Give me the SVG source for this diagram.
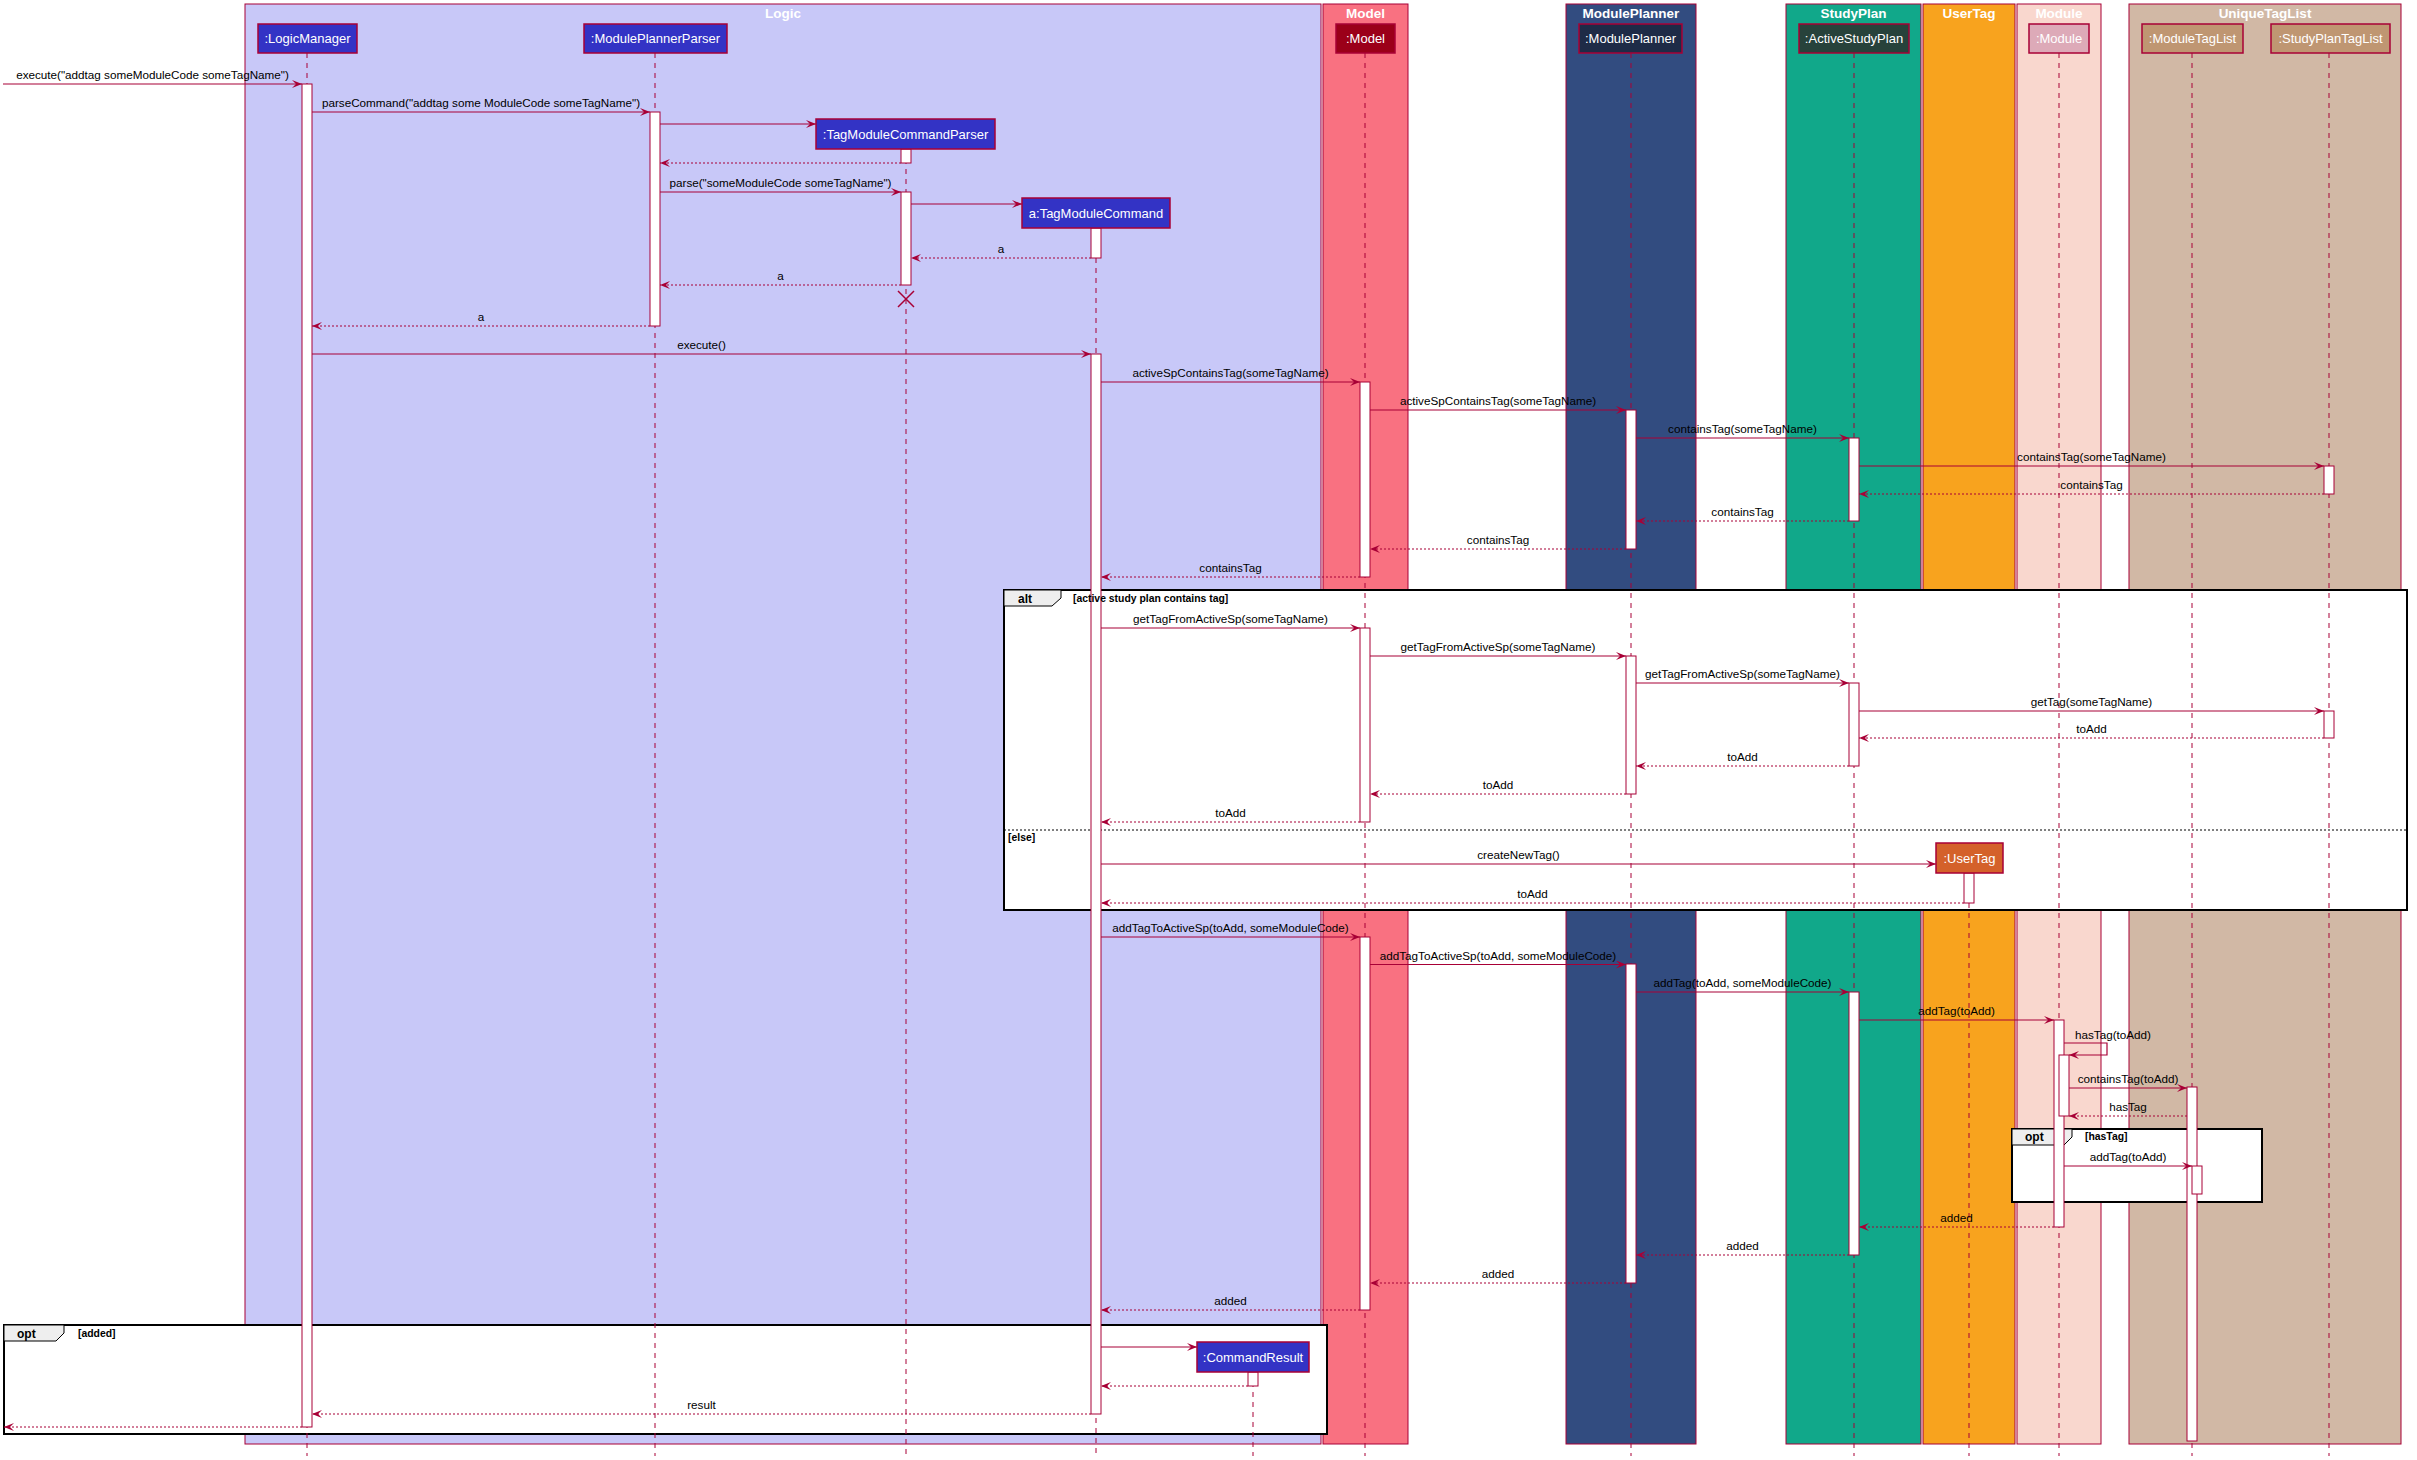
<svg xmlns="http://www.w3.org/2000/svg" width="2417" height="1460" viewBox="0 0 2417 1460">
  <style>
    text { font-family: "Liberation Sans", Arial, sans-serif; }
    .ftitle { font-size: 13.5px; font-weight: bold; fill: #ffffff; text-anchor: middle; }
    .fbox { stroke: #A80036; stroke-width: 1; }
    .pbox { stroke: #A80036; stroke-width: 1.5; }
    .plabel { font-size: 13px; fill: #ffffff; text-anchor: middle; }
    .life { stroke: #A80036; stroke-width: 1; stroke-dasharray: 5,5; fill: none; }
    .act { fill: #ffffff; stroke: #A80036; stroke-width: 1; }
    .call { stroke: #A80036; stroke-width: 1.2; fill: none; marker-end: url(#ah); }
    .ret { stroke: #A80036; stroke-width: 1.2; stroke-dasharray: 2,2; fill: none; marker-end: url(#ah); }
    .msg { font-size: 11.7px; fill: #000000; text-anchor: middle; }
    .self { font-size: 11.7px; fill: #000000; }
    .grp { fill: #ffffff; stroke: #000000; stroke-width: 2; }
    .tab { fill: #EEEEEE; stroke: #000000; stroke-width: 1; }
    .gkey { font-size: 12px; font-weight: bold; fill: #000000; }
    .guard { font-size: 10.4px; font-weight: bold; fill: #000000; }
    .sep { stroke: #000000; stroke-width: 1; stroke-dasharray: 2,2; }
    .blue { fill: #3333C5; }
  </style>
  <defs>
    <marker id="ah" markerUnits="userSpaceOnUse" markerWidth="12" markerHeight="10" refX="10" refY="4" orient="auto">
      <path d="M0,0 L10,4 L0,8 L4,4 Z" fill="#A80036"/>
    </marker>
  </defs>

  <rect x="0" y="0" width="2417" height="1460" fill="#ffffff"/>

  <!-- package boxes -->
  <g id="box-logic">
    <rect class="fbox" x="245" y="4" width="1076" height="1440" fill="#C8C8F8"/>
    <text class="ftitle" x="783" y="18">Logic</text>
  </g>
  <g id="box-model">
    <rect class="fbox" x="1323" y="4" width="85" height="1440" fill="#F97181"/>
    <text class="ftitle" x="1365.5" y="18">Model</text>
  </g>
  <g id="box-moduleplanner">
    <rect class="fbox" x="1566" y="4" width="130" height="1440" fill="#324C80"/>
    <text class="ftitle" x="1631" y="18">ModulePlanner</text>
  </g>
  <g id="box-studyplan">
    <rect class="fbox" x="1786" y="4" width="135" height="1440" fill="#11A88A"/>
    <text class="ftitle" x="1853.5" y="18">StudyPlan</text>
  </g>
  <g id="box-usertag">
    <rect class="fbox" x="1923" y="4" width="92" height="1440" fill="#F8A31E"/>
    <text class="ftitle" x="1969" y="18">UserTag</text>
  </g>
  <g id="box-module">
    <rect class="fbox" x="2017" y="4" width="84" height="1440" fill="#F9D7CE"/>
    <text class="ftitle" x="2059" y="18">Module</text>
  </g>
  <g id="box-uniquetaglist">
    <rect class="fbox" x="2129" y="4" width="272" height="1440" fill="#D1B8A5"/>
    <text class="ftitle" x="2265" y="18">UniqueTagList</text>
  </g>

  <!-- combined fragments: frames and tabs -->
  <g id="frag-alt">
    <rect class="grp" x="1004" y="590" width="1403" height="320"/>
    <path class="tab" d="M1004,590 H1061 V598 L1052,606 H1004 Z"/>
    <text class="gkey" x="1018" y="603">alt</text>
    <line class="sep" x1="1004" y1="830" x2="2407" y2="830"/>
  </g>
  <g id="frag-opt-hastag">
    <rect class="grp" x="2012" y="1129" width="250" height="73"/>
    <path class="tab" d="M2012,1129 H2072 V1137 L2064,1145 H2012 Z"/>
    <text class="gkey" x="2025" y="1141">opt</text>
  </g>
  <g id="frag-opt-added">
    <rect class="grp" x="4" y="1325" width="1323" height="109"/>
    <path class="tab" d="M4,1325 H64 V1333 L56,1341 H4 Z"/>
    <text class="gkey" x="17" y="1338">opt</text>
  </g>

  <!-- lifelines -->
  <g id="lifelines">
    <line class="life" x1="307" y1="53" x2="307" y2="1456"/>
    <line class="life" x1="655" y1="53" x2="655" y2="1456"/>
    <line class="life" x1="906" y1="149" x2="906" y2="1456"/>
    <line class="life" x1="1096" y1="228" x2="1096" y2="1456"/>
    <line class="life" x1="1253" y1="1372" x2="1253" y2="1456"/>
    <line class="life" x1="1365" y1="53" x2="1365" y2="1456"/>
    <line class="life" x1="1631" y1="53" x2="1631" y2="1456"/>
    <line class="life" x1="1854" y1="53" x2="1854" y2="1456"/>
    <line class="life" x1="1969" y1="873" x2="1969" y2="1456"/>
    <line class="life" x1="2059" y1="53" x2="2059" y2="1456"/>
    <line class="life" x1="2192" y1="53" x2="2192" y2="1456"/>
    <line class="life" x1="2329" y1="53" x2="2329" y2="1456"/>
  </g>

  <!-- activation bars -->
  <g id="activations">
    <rect class="act" x="302" y="84" width="10" height="1343"/>
    <rect class="act" x="650" y="112" width="10" height="214"/>
    <rect class="act" x="901" y="149" width="10" height="14"/>
    <rect class="act" x="901" y="192" width="10" height="93"/>
    <rect class="act" x="1091" y="228" width="10" height="30"/>
    <rect class="act" x="1091" y="354" width="10" height="1060"/>
    <rect class="act" x="1360" y="382" width="10" height="195"/>
    <rect class="act" x="1360" y="628" width="10" height="194"/>
    <rect class="act" x="1360" y="937" width="10" height="373"/>
    <rect class="act" x="1626" y="410" width="10" height="139"/>
    <rect class="act" x="1626" y="656" width="10" height="138"/>
    <rect class="act" x="1626" y="964" width="10" height="319"/>
    <rect class="act" x="1849" y="438" width="10" height="83"/>
    <rect class="act" x="1849" y="683" width="10" height="83"/>
    <rect class="act" x="1849" y="992" width="10" height="263"/>
    <rect class="act" x="1964" y="873" width="10" height="30"/>
    <rect class="act" x="2054" y="1020" width="10" height="207"/>
    <rect class="act" x="2059" y="1055" width="10" height="61"/>
    <rect class="act" x="2187" y="1087" width="10" height="354"/>
    <rect class="act" x="2192" y="1166" width="10" height="28"/>
    <rect class="act" x="2324" y="466" width="10" height="28"/>
    <rect class="act" x="2324" y="711" width="10" height="27"/>
    <rect class="act" x="1248" y="1372" width="10" height="14"/>
  </g>

  <!-- fragment guards, printed over the bars -->
  <g id="frag-guards">
    <text class="guard" x="1073" y="602">[active study plan contains tag]</text>
    <text class="guard" x="1008" y="841">[else]</text>
    <text class="guard" x="2085" y="1140">[hasTag]</text>
    <text class="guard" x="78" y="1337">[added]</text>
  </g>

  <!-- messages -->
  <g id="connectors">
    <path class="call" d="M3,84 H302"/>
    <text class="msg" x="152.5" y="79">execute("addtag someModuleCode someTagName")</text>
    <path class="call" d="M312,112 H650"/>
    <text class="msg" x="481" y="107">parseCommand("addtag some ModuleCode someTagName")</text>
    <path class="call" d="M660,124 H816"/>
    <path class="ret" d="M901,163 H660"/>
    <path class="call" d="M660,192 H901"/>
    <text class="msg" x="780.5" y="187">parse("someModuleCode someTagName")</text>
    <path class="call" d="M911,204 H1022"/>
    <path class="ret" d="M1091,258 H911"/>
    <text class="msg" x="1001" y="253">a</text>
    <path class="ret" d="M901,285 H660"/>
    <text class="msg" x="780.5" y="280">a</text>
    <path d="M898,291 L914,307 M914,291 L898,307" stroke="#A80036" stroke-width="1.5"/>
    <path class="ret" d="M650,326 H312"/>
    <text class="msg" x="481" y="321">a</text>
    <path class="call" d="M312,354 H1091"/>
    <text class="msg" x="701.5" y="349">execute()</text>

    <path class="call" d="M1101,382 H1360"/>
    <text class="msg" x="1230.5" y="377">activeSpContainsTag(someTagName)</text>
    <path class="call" d="M1370,410 H1626"/>
    <text class="msg" x="1498" y="405">activeSpContainsTag(someTagName)</text>
    <path class="call" d="M1636,438 H1849"/>
    <text class="msg" x="1742.5" y="433">containsTag(someTagName)</text>
    <path class="call" d="M1859,466 H2324"/>
    <text class="msg" x="2091.5" y="461">containsTag(someTagName)</text>
    <path class="ret" d="M2324,494 H1859"/>
    <text class="msg" x="2091.5" y="489">containsTag</text>
    <path class="ret" d="M1849,521 H1636"/>
    <text class="msg" x="1742.5" y="516">containsTag</text>
    <path class="ret" d="M1626,549 H1370"/>
    <text class="msg" x="1498" y="544">containsTag</text>
    <path class="ret" d="M1360,577 H1101"/>
    <text class="msg" x="1230.5" y="572">containsTag</text>

    <path class="call" d="M1101,628 H1360"/>
    <text class="msg" x="1230.5" y="623">getTagFromActiveSp(someTagName)</text>
    <path class="call" d="M1370,656 H1626"/>
    <text class="msg" x="1498" y="651">getTagFromActiveSp(someTagName)</text>
    <path class="call" d="M1636,683 H1849"/>
    <text class="msg" x="1742.5" y="678">getTagFromActiveSp(someTagName)</text>
    <path class="call" d="M1859,711 H2324"/>
    <text class="msg" x="2091.5" y="706">getTag(someTagName)</text>
    <path class="ret" d="M2324,738 H1859"/>
    <text class="msg" x="2091.5" y="733">toAdd</text>
    <path class="ret" d="M1849,766 H1636"/>
    <text class="msg" x="1742.5" y="761">toAdd</text>
    <path class="ret" d="M1626,794 H1370"/>
    <text class="msg" x="1498" y="789">toAdd</text>
    <path class="ret" d="M1360,822 H1101"/>
    <text class="msg" x="1230.5" y="817">toAdd</text>
    <path class="call" d="M1101,864 H1936"/>
    <text class="msg" x="1518.5" y="859">createNewTag()</text>
    <path class="ret" d="M1964,903 H1101"/>
    <text class="msg" x="1532.5" y="898">toAdd</text>

    <path class="call" d="M1101,937 H1360"/>
    <text class="msg" x="1230.5" y="932">addTagToActiveSp(toAdd, someModuleCode)</text>
    <path class="call" d="M1370,964.5 H1626"/>
    <text class="msg" x="1498" y="959.5">addTagToActiveSp(toAdd, someModuleCode)</text>
    <path class="call" d="M1636,992 H1849"/>
    <text class="msg" x="1742.5" y="987">addTag(toAdd, someModuleCode)</text>
    <path class="call" d="M1859,1020 H2054"/>
    <text class="msg" x="1956.5" y="1015">addTag(toAdd)</text>
    <path class="call" d="M2064,1043 H2107 V1055 H2069"/>
    <text class="self" x="2075" y="1039">hasTag(toAdd)</text>
    <path class="call" d="M2069,1088 H2187"/>
    <text class="msg" x="2128" y="1083">containsTag(toAdd)</text>
    <path class="ret" d="M2187,1116 H2069"/>
    <text class="msg" x="2128" y="1111">hasTag</text>
    <path class="call" d="M2064,1166 H2192"/>
    <text class="msg" x="2128" y="1161">addTag(toAdd)</text>
    <path class="ret" d="M2054,1227 H1859"/>
    <text class="msg" x="1956.5" y="1222">added</text>
    <path class="ret" d="M1849,1255 H1636"/>
    <text class="msg" x="1742.5" y="1250">added</text>
    <path class="ret" d="M1626,1283 H1370"/>
    <text class="msg" x="1498" y="1278">added</text>
    <path class="ret" d="M1360,1310 H1101"/>
    <text class="msg" x="1230.5" y="1305">added</text>

    <path class="call" d="M1101,1347 H1197"/>
    <path class="ret" d="M1248,1386 H1101"/>
    <path class="ret" d="M1091,1414 H312"/>
    <text class="msg" x="701.5" y="1409">result</text>
    <path class="ret" d="M302,1427 H4"/>
  </g>

  <!-- participants -->
  <g id="p-logicmanager">
    <rect class="pbox blue" x="258" y="24" width="99" height="29"/>
    <text class="plabel" x="307.5" y="43">:LogicManager</text>
  </g>
  <g id="p-moduleplannerparser">
    <rect class="pbox blue" x="584" y="24" width="143" height="29"/>
    <text class="plabel" x="655.5" y="43">:ModulePlannerParser</text>
  </g>
  <g id="p-tagmodulecommandparser">
    <rect class="pbox blue" x="816" y="119" width="179" height="30"/>
    <text class="plabel" x="905.5" y="138.5">:TagModuleCommandParser</text>
  </g>
  <g id="p-tagmodulecommand">
    <rect class="pbox blue" x="1022" y="198" width="148" height="30"/>
    <text class="plabel" x="1096" y="217.5">a:TagModuleCommand</text>
  </g>
  <g id="p-commandresult">
    <rect class="pbox blue" x="1197" y="1342" width="112" height="30"/>
    <text class="plabel" x="1253" y="1361.5">:CommandResult</text>
  </g>
  <g id="p-model">
    <rect class="pbox" x="1336" y="24" width="59" height="29" fill="#9B0019"/>
    <text class="plabel" x="1365.5" y="43">:Model</text>
  </g>
  <g id="p-moduleplanner">
    <rect class="pbox" x="1579" y="24" width="103" height="29" fill="#1E2B47"/>
    <text class="plabel" x="1630.5" y="43">:ModulePlanner</text>
  </g>
  <g id="p-activestudyplan">
    <rect class="pbox" x="1799" y="24" width="110" height="29" fill="#27423B"/>
    <text class="plabel" x="1854" y="43">:ActiveStudyPlan</text>
  </g>
  <g id="p-usertag">
    <rect class="pbox" x="1936" y="843" width="67" height="30" fill="#D4612A"/>
    <text class="plabel" x="1969.5" y="862.5">:UserTag</text>
  </g>
  <g id="p-module">
    <rect class="pbox" x="2029" y="24" width="60" height="29" fill="#DDAAB8"/>
    <text class="plabel" x="2059" y="43">:Module</text>
  </g>
  <g id="p-moduletaglist">
    <rect class="pbox" x="2142" y="24" width="101" height="29" fill="#BF9672"/>
    <text class="plabel" x="2192.5" y="43">:ModuleTagList</text>
  </g>
  <g id="p-studyplantaglist">
    <rect class="pbox" x="2271" y="24" width="119" height="29" fill="#BF9672"/>
    <text class="plabel" x="2330.5" y="43">:StudyPlanTagList</text>
  </g>
</svg>
